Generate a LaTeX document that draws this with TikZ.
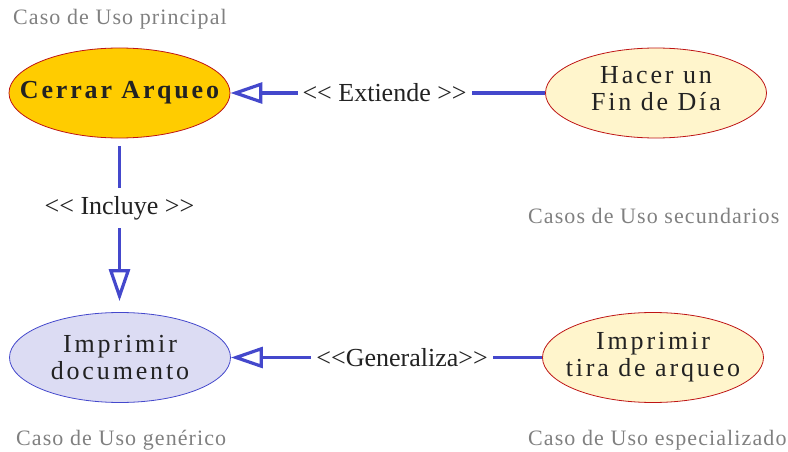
\documentclass[tikz,border=0pt]{standalone}
\usepackage{fontspec}
\setmainfont{Liberation Serif}
\newfontfamily\ellfont[LetterSpace=11]{Liberation Serif}
\newfontfamily\capfont[LetterSpace=5]{Liberation Serif}
\usetikzlibrary{shapes.geometric,arrows.meta}
\definecolor{lnblue}{RGB}{68,72,204}
\definecolor{gold}{RGB}{255,204,0}
\definecolor{cream}{RGB}{255,245,204}
\definecolor{lav}{RGB}{220,220,243}
\definecolor{bordred}{RGB}{190,20,20}
\definecolor{txt}{RGB}{34,34,34}
\definecolor{capgray}{RGB}{128,128,128}
\newcommand{\zl}[1]{\makebox[0pt]{#1}}
\begin{document}
\begin{tikzpicture}[x=1pt,y=-1pt,
  uc/.style={ellipse, draw=bordred, line width=0.8pt, minimum width=221pt, minimum height=90pt,
    inner sep=0pt, align=center, text=txt, font=\ellfont\fontsize{26}{27}\selectfont},
  conn/.style={draw=lnblue, line width=3.2pt, -{Triangle[open,length=32pt,width=21pt]}},
  lbl/.style={fill=white, inner xsep=5pt, inner ysep=8pt, text=txt, font=\fontsize{26}{28}\selectfont},
  captext/.style={anchor=base west, inner sep=0pt, text=capgray, font=\capfont\fontsize{22}{24}\selectfont}]
\useasboundingbox (0,0) rectangle (788,452);
\node[uc, fill=gold, font=\ellfont\bfseries\fontsize{26}{27}\selectfont] (cerrar) at (119.5,93) {\zl{Cerrar Arqueo}};
\node[uc, fill=cream, text depth=9pt] (hacer) at (656,93) {\zl{Hacer un}\\\zl{Fin de Día}};
\node[uc, fill=lav, draw=lnblue] (doc) at (120,357.5) {\zl{Imprimir}\\\zl{documento}};
\node[uc, fill=cream] (tira) at (653,357.5) {\zl{Imprimir}\\\zl{tira de arqueo}};
\draw[conn] (hacer) -- (cerrar) node[lbl, pos=0.51] (lext) {<\kern0pt< Extiende >\kern0pt>};
\draw[conn, shorten <=8pt, shorten >=11pt] (cerrar.south) -- (cerrar.south |- doc.north) node[lbl, pos=0.4] (linc) {<\kern0pt< Incluye >\kern0pt>};
\draw[conn] (tira) -- (doc) node[lbl, pos=0.45] (lgen) {<\kern0pt<Generaliza>\kern0pt>};
\node[captext] (c1) at (13,25) {Caso de Uso principal};
\node[captext] (c2) at (528,223) {Casos de Uso secundarios};
\node[captext] (c3) at (16,445) {Caso de Uso genérico};
\node[captext] (c4) at (528,445) {Caso de Uso especializado};
\end{tikzpicture}
\end{document}
